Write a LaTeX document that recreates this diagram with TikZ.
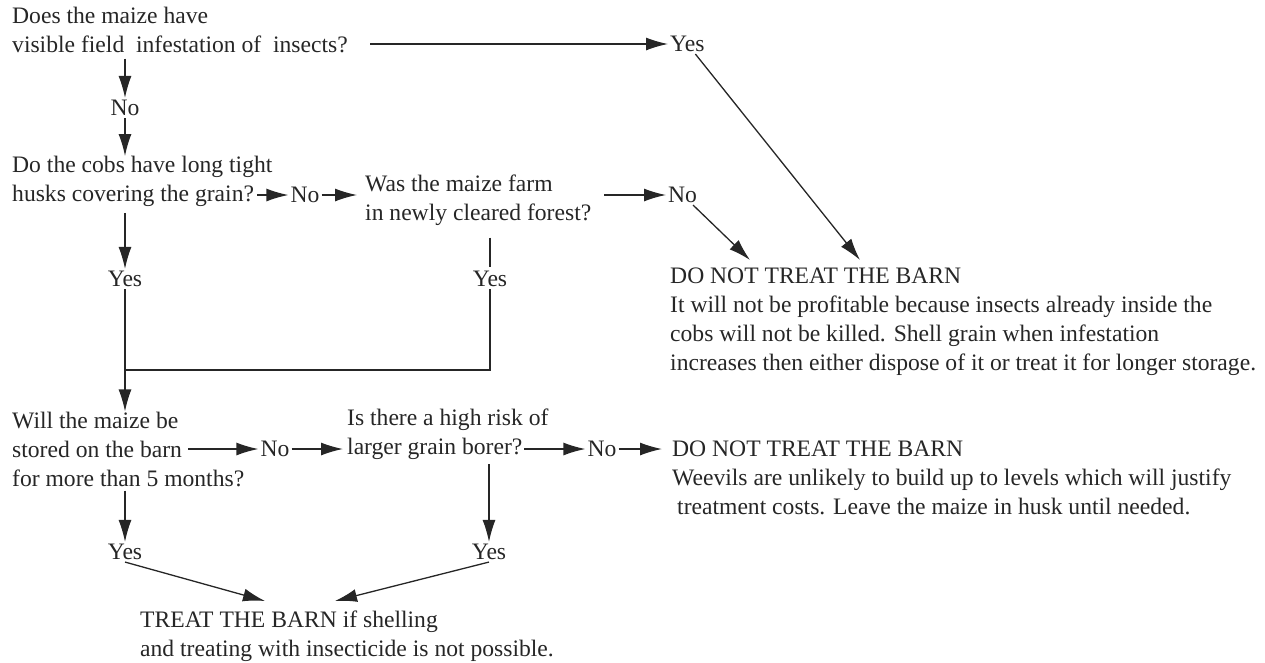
\documentclass[tikz,border=0pt]{standalone}
\usepackage{fontspec}
\setmainfont{Liberation Serif}
\usetikzlibrary{arrows.meta, calc}

\definecolor{ink}{HTML}{262626}
\newcommand{\qfont}{\fontsize{23.6}{29}\selectfont}

\begin{document}
\begin{tikzpicture}[
    x=1pt, y=-1pt,
    txt/.style={font=\qfont, align=left, inner sep=0pt, text=ink, anchor=west},
    lbl/.style={font=\qfont, inner sep=2pt, text=ink},
    arr/.style={-{Latex[length=22pt,width=13pt]}, draw=ink, line width=1.3pt},
    ln/.style={draw=ink, line width=1.3pt}
]
\useasboundingbox (0,0) rectangle (1265,662);

% === FIRST QUESTION ===
\node[txt] (q1) at (12,29.5) {Does the maize have\\visible field\ \ infestation of\ \ insects?};
\coordinate (q1out) at (370,44);
\node[lbl, anchor=west] (yes1) at (668,44) {Yes};
\draw[arr] (q1out) -- (yes1);

\node[lbl] (no1) at (125,108) {No};
\draw[arr, shorten <=6pt] (q1.south -| no1) -- (no1);

% === SECOND QUESTION ===
\node[txt] (q2) at (12,181.5) {Do the cobs have long tight\\husks covering the grain?};
\draw[arr] (no1) -- (q2.north -| no1);

\coordinate (q2out) at (257,195);
\node[lbl] (no2) at (305,195) {No};
\node[txt] (q3) at (365,200) {Was the maize farm\\in newly cleared forest?};
\draw[arr] (q2out) -- (no2);
\draw[arr, shorten >=8pt] (no2) -- (q3.west |- no2);

\coordinate (q3out) at (604,195);
\node[lbl, anchor=west] (no3) at (666,195) {No};
\draw[arr] (q3out) -- (no3);

% === DO NOT TREAT (infested) ===
\node[txt] (dnt1) at (670,321.5) {DO NOT TREAT THE BARN\\It will not be profitable because insects already inside the\\cobs will not be killed. Shell grain when infestation\\increases then either dispose of it or treat it for longer storage.};
\coordinate (dnt1a) at (750,260);
\coordinate (dnt1b) at (860,260);
\draw[arr] (no3) -- (dnt1a);
\draw[arr] (yes1) -- (dnt1b);

% === YES BRANCHES JOIN ===
\node[lbl] (yes2) at (125,279) {Yes};
\node[lbl] (yes3) at (490,279) {Yes};
\draw[arr, shorten <=6pt] (q2.south -| yes2) -- (yes2);
\draw[ln, shorten <=12pt, shorten >=2pt] (q3.south -| yes3) -- (yes3);
\coordinate (jn) at (125,370);
\draw[ln] (yes2) -- (jn) -| (yes3);

% === STORAGE QUESTION ===
\node[txt] (q4) at (12,449) {Will the maize be\\stored on the barn\\for more than 5 months?};
\draw[arr] (jn) -- (q4.north -| jn);

\coordinate (q4out) at (188,449);
\node[lbl] (no4) at (275,449) {No};
\node[txt] (q5) at (347,434.5) {Is there a high risk of\\larger grain borer?};
\draw[arr] (q4out) -- (no4);
\draw[arr, shorten >=4pt] (no4) -- (q5.west |- no4);

\coordinate (q5out) at (524,449);
\node[lbl] (no5) at (602,449) {No};
\node[txt] (dnt2) at (672,478) {DO NOT TREAT THE BARN\\Weevils are unlikely to build up to levels which will justify\\\hspace{5pt}treatment costs. Leave the maize in husk until needed.};
\draw[arr] (q5out) -- (no5);
\draw[arr, shorten >=10pt] (no5) -- (dnt2.west |- no5);

% === TREAT ===
\node[lbl] (yes4) at (125,552) {Yes};
\node[lbl] (yes5) at (489,552) {Yes};
\draw[arr, shorten <=4pt] (q4.south -| yes4) -- (yes4);
\draw[arr, shorten <=4pt] (q5.south -| yes5) -- (yes5);

\node[txt] (treat) at (140,636.5) {TREAT THE BARN if shelling\\and treating with insecticide is not possible.};
\coordinate (tin1) at (265,601);
\coordinate (tin2) at (335,601);
\draw[arr] (yes4.south) -- (tin1);
\draw[arr] (yes5.south) -- (tin2);

\end{tikzpicture}
\end{document}
